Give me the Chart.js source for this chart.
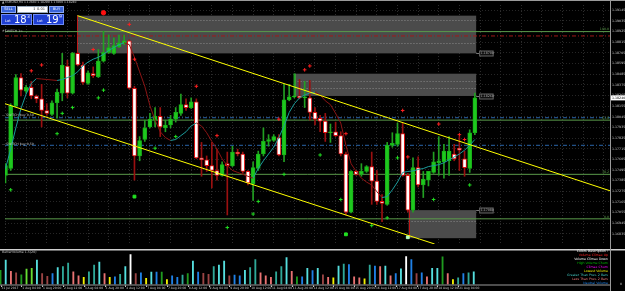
<!DOCTYPE html>
<html>
<head>
<meta charset="utf-8">
<script src="https://cdn.jsdelivr.net/npm/chart.js@4.4.0/dist/chart.umd.min.js"></script>
<style>
html, body { margin: 0; padding: 0; background: #000; }
#wrap { position: relative; width: 625px; height: 291px; overflow: hidden; background: #000; font-family: "DejaVu Sans", sans-serif; }
#mainBox { position: absolute; left: 0; top: 0; width: 625px; height: 249px; }
#volBox { position: absolute; left: 0; top: 249px; width: 625px; height: 42px; }
.t { position: absolute; white-space: nowrap; line-height: 1; color: #c0c0c0; font-size: 3.2px; }
.btn { position: absolute; height: 7px; background: #3a64d8; border: 1px solid #8aa6f2; box-sizing: border-box; color: #fff; font-size: 3.6px; text-align: center; line-height: 5px; }
.lot { position: absolute; height: 7px; background: #fff; border: 1px solid #9aaabb; box-sizing: border-box; color: #333; font-size: 3.6px; text-align: right; line-height: 5px; padding-right: 2px; }
.px { position: absolute; width: 31px; height: 11px; background: #1f3fd2; border: 1px solid #6f8cf5; box-sizing: border-box; color: #fff; }
.px .s { position: absolute; left: 3px; top: 5px; font-size: 3.6px; line-height: 1; }
.px .b { position: absolute; left: 12px; top: -1px; font-size: 10px; line-height: 1.1; }
.px .u { position: absolute; left: 25px; top: 0; font-size: 4.5px; line-height: 1; }
#legend { position: absolute; right: 17px; top: 250.4px; text-align: right; font-size: 3.2px; line-height: 3.95px; white-space: nowrap; }
</style>
</head>
<body>
<div id="wrap">
  <div id="mainBox"><canvas id="mainChart" width="625" height="249"></canvas></div>
  <div id="volBox"><canvas id="volChart" width="625" height="42"></canvas></div>

  <div class="t" style="left:2px;top:1px;font-size:3px;">&#9650; EURUSD,H4 1.17880 1.18290 1.17860 1.18240</div>
  <div class="btn" style="left:1px;top:6px;width:15px;">SELL</div>
  <div class="lot" style="left:17px;top:6px;width:31px;">&#8597; 0.01</div>
  <div class="btn" style="left:49px;top:6px;width:15px;">BUY</div>
  <div class="px" style="left:1px;top:13.5px;"><span class="s">Lot</span><span class="b">18</span><span class="u">3</span></div>
  <div class="px" style="left:33px;top:13.5px;"><span class="s">Lot</span><span class="b">19</span><span class="u">9</span></div>

  <div class="t" style="left:2px;top:29.5px;">#SWITCH 1&gt;</div>
  <div class="t" style="left:2px;top:114px;">&#8212; SWITCH buy 0.50</div>
  <div class="t" style="left:2px;top:143px;">&#8212; SWITCH buy 0.50</div>
  <div class="t" style="left:2px;top:251px;">BetterVolume 1.5(20)</div>

  <div id="legend">
    <div style="color:#ffffff;">Colors Description :</div>
    <div style="color:#ff2020;">Volume Climax Up</div>
    <div style="color:#ffffff;">Volume Climax Down</div>
    <div style="color:#00c000;">High Volume Churn</div>
    <div style="color:#ff00ff;">Climax Churn</div>
    <div style="color:#f0f000;">Lowest Volume</div>
    <div style="color:#40c8c0;">Greater Than Prev. 2 Bars</div>
    <div style="color:#f07b7b;">Less Than Prev. 2 Bars</div>
    <div style="color:#1f86ee;">Neutral Volume</div>
  </div>
</div>

<script>
// EURUSD H4, 31 Jul 12:00 .. 21 Aug 16:00
const openP = [
  1.1744, 1.1751, 1.1816, 1.1845, 1.1831, 1.1835, 1.1826, 1.1823, 1.1811, 1.1807,
  1.1819, 1.1829, 1.1857, 1.1829, 1.1870, 1.1858, 1.1839, 1.1849, 1.1846, 1.1862,
  1.1871, 1.1870, 1.1877, 1.1880, 1.1883, 1.1834, 1.1764, 1.1781, 1.1794, 1.1801,
  1.1805, 1.1793, 1.1796, 1.1802, 1.1808, 1.1817, 1.1814, 1.1820, 1.1762, 1.1760,
  1.1754, 1.1749, 1.1744, 1.1756, 1.1754, 1.1768, 1.1766, 1.1748, 1.1735, 1.1751,
  1.1766, 1.1779, 1.1780, 1.1783, 1.1765, 1.1822, 1.1825, 1.1826, 1.1824, 1.1824,
  1.1809, 1.1803, 1.1800, 1.1788, 1.1789, 1.1785, 1.1766, 1.1706, 1.1748, 1.1745,
  1.1748, 1.1753, 1.1738, 1.1717, 1.1714, 1.1775, 1.1776, 1.1787, 1.1744, 1.1708,
  1.1752, 1.1734, 1.1739, 1.1747, 1.1757, 1.1758, 1.1759, 1.1766, 1.1772, 1.1761,
  1.1751, 1.1788
];
const highP = [
  1.1756, 1.1818, 1.1848, 1.1849, 1.1837, 1.1841, 1.1827, 1.1838, 1.1818, 1.1821,
  1.1833, 1.1870, 1.1863, 1.1871, 1.1871, 1.1861, 1.1852, 1.1856, 1.1874, 1.1893,
  1.1889, 1.1886, 1.1889, 1.1889, 1.1884, 1.1836, 1.1784, 1.1801, 1.1808, 1.1814,
  1.1814, 1.1801, 1.1806, 1.1814, 1.1828, 1.1823, 1.1824, 1.1823, 1.1778, 1.1764,
  1.1778, 1.1771, 1.1758, 1.1768, 1.1774, 1.1771, 1.1768, 1.1749, 1.1758, 1.1769,
  1.1793, 1.1786, 1.1786, 1.1786, 1.1838, 1.1838, 1.1849, 1.1843, 1.1841, 1.1842,
  1.1814, 1.1806, 1.1808, 1.1797, 1.1799, 1.1789, 1.1768, 1.1749, 1.1749, 1.1756,
  1.1754, 1.1768, 1.1749, 1.1724, 1.1778, 1.1788, 1.1798, 1.1798, 1.1746, 1.1762,
  1.1763, 1.1748, 1.1748, 1.1768, 1.1784, 1.1776, 1.1784, 1.1776, 1.1784, 1.1769,
  1.1791, 1.1829
];
const lowP = [
  1.1736, 1.1749, 1.1815, 1.1826, 1.1829, 1.1823, 1.1819, 1.1794, 1.1806, 1.1806,
  1.1803, 1.1821, 1.1824, 1.1828, 1.1857, 1.1838, 1.1838, 1.1845, 1.1845, 1.1861,
  1.1870, 1.1869, 1.1876, 1.1879, 1.1833, 1.1739, 1.1759, 1.1779, 1.1793, 1.1794,
  1.1784, 1.1789, 1.1793, 1.1799, 1.1806, 1.1811, 1.1813, 1.1761, 1.1743, 1.1748,
  1.1731, 1.1739, 1.1743, 1.1703, 1.1753, 1.1764, 1.1746, 1.1734, 1.1718, 1.1749,
  1.1764, 1.1774, 1.1779, 1.1764, 1.1758, 1.1821, 1.1824, 1.1823, 1.1814, 1.1801,
  1.1796, 1.1789, 1.1779, 1.1778, 1.1784, 1.1764, 1.1703, 1.1705, 1.1744, 1.1743,
  1.1747, 1.1714, 1.1714, 1.1696, 1.1713, 1.1773, 1.1774, 1.1743, 1.1706, 1.1706,
  1.1732, 1.1721, 1.1733, 1.1746, 1.1744, 1.1741, 1.1744, 1.1759, 1.1749, 1.1743,
  1.1747, 1.1786
];
const closeP = [
  1.1754, 1.1816, 1.1845, 1.1832, 1.1835, 1.1826, 1.1823, 1.1811, 1.1808, 1.1819,
  1.1830, 1.1858, 1.1829, 1.1870, 1.1858, 1.1840, 1.1850, 1.1847, 1.1862, 1.1871,
  1.1876, 1.1878, 1.1881, 1.1883, 1.1834, 1.1764, 1.1780, 1.1793, 1.1802, 1.1805,
  1.1794, 1.1796, 1.1802, 1.1809, 1.1817, 1.1814, 1.1820, 1.1762, 1.1760, 1.1754,
  1.1749, 1.1744, 1.1755, 1.1754, 1.1768, 1.1766, 1.1748, 1.1736, 1.1752, 1.1766,
  1.1779, 1.1781, 1.1784, 1.1765, 1.1822, 1.1825, 1.1826, 1.1824, 1.1825, 1.1809,
  1.1802, 1.1800, 1.1788, 1.1789, 1.1785, 1.1766, 1.1706, 1.1748, 1.1745, 1.1748,
  1.1753, 1.1738, 1.1717, 1.1715, 1.1775, 1.1777, 1.1787, 1.1744, 1.1708, 1.1752,
  1.1734, 1.1740, 1.1748, 1.1758, 1.1759, 1.1769, 1.1769, 1.1761, 1.1770, 1.1752,
  1.1788, 1.1824
];

// trend-colored moving average
const maLine = [
  1.1751, 1.1771, 1.1793, 1.1813, 1.1828, 1.1839, 1.1844, 1.18435, 1.1843, 1.18425,
  1.1842, 1.1843, 1.1845, 1.1847, 1.1851, 1.1857, 1.1861, 1.1864, 1.1866, 1.1869,
  1.1873, 1.1876, 1.1879, 1.1881, 1.1879, 1.1866, 1.1851, 1.1836, 1.1816, 1.1801,
  1.1789, 1.1783, 1.1780, 1.1781, 1.1785, 1.1789, 1.1795, 1.1798, 1.1795, 1.1788,
  1.1779, 1.1771, 1.1761, 1.1754, 1.1749, 1.1747, 1.1745, 1.1743, 1.1741, 1.1751,
  1.1759, 1.1766, 1.1773, 1.1783, 1.1795, 1.1809, 1.1818, 1.1824, 1.1827, 1.1829,
  1.1830, 1.1827, 1.1821, 1.1817, 1.1808, 1.1798, 1.1775, 1.1756, 1.1748, 1.1741,
  1.1737, 1.1734, 1.1727, 1.1721, 1.1722, 1.1729, 1.1737, 1.1747, 1.1748, 1.17485,
  1.1750, 1.1751, 1.1753, 1.1754, 1.1755, 1.1757, 1.1760, 1.1763, 1.1766, 1.1770,
  1.1775, 1.1781
];

// volume panel
const volume = [
  1550, 2680, 1450, 1280, 1050, 1680, 1780, 2680, 1180, 880,
  1180, 1850, 1950, 2350, 1380, 950, 780, 1380, 2120, 2450,
  1180, 780, 850, 1120, 1950, 3280, 1180, 1280, 680, 1350,
  1350, 1350, 550, 950, 780, 1020, 1180, 2550, 1350, 1220,
  1120, 1950, 2120, 2550, 950, 1020, 950, 1550, 1850, 2720,
  1280, 950, 780, 1380, 1950, 2950, 1450, 850, 850, 1780,
  1520, 1780, 1050, 780, 720, 2020, 2220, 2180, 850, 720,
  620, 2120, 2020, 1950, 2020, 950, 1180, 1720, 3050, 2720,
  1180, 1280, 850, 1780, 1780, 3020, 1180, 550, 720, 1180,
  1280, 1380
];
const volColor = [
  'g', 'c', 's', 'dr', 'g', 'lg', 'lg', 'c', 'dr', 'dr',
  'b', 'c', 't', 't', 's', 's', 'y', 't', 't', 'c',
  's', 'y', 'b', 't', 'c', 'w', 'dr', 'b', 'y', 'c',
  'b', 'g', 'y', 'b', 'b', 't', 'g', 'c', 'b', 'dr',
  'dr', 't', 'c', 'c', 'dr', 'b', 'b', 'c', 't', 't',
  's', 's', 's', 't', 't', 'c', 's', 'g', 'b', 'c',
  'b', 'c', 'dr', 's', 'y', 'c', 't', 'b', 's', 's',
  'y', 't', 'b', 's', 'c', 's', 'b', 'c', 'w', 'b',
  'dr', 'b', 's', 'c', 'c', 'g', 's', 'y', 't', 'b',
  't', 'c'
];
const palette = { g: '#1f9a1f', lg: '#66dd33', s: '#e87272', dr: '#9a4444', c: '#55dede', t: '#2fa898', b: '#1f80e6', y: '#f0f000', w: '#ffffff' };

// axis labels
const dateIdx = [0, 4, 8, 12, 16, 20, 24, 28, 32, 36, 40, 44, 48, 52, 56, 60, 64, 68, 72, 76, 80, 84, 88];
const dateLabels = [
  '31 Jul 2017', '1 Aug 04:00', '1 Aug 20:00', '2 Aug 12:00', '3 Aug 04:00', '3 Aug 20:00',
  '4 Aug 12:00', '7 Aug 04:00', '7 Aug 20:00', '8 Aug 12:00', '9 Aug 04:00', '9 Aug 20:00',
  '10 Aug 12:00', '11 Aug 04:00', '11 Aug 20:00', '14 Aug 12:00', '15 Aug 04:00', '15 Aug 20:00',
  '16 Aug 12:00', '17 Aug 04:00', '17 Aug 20:00', '18 Aug 12:00', '21 Aug 04:00'
];
const priceTicks = [
  1.19145, 1.19035, 1.18925, 1.18815, 1.18705, 1.18595, 1.18485, 1.18375, 1.18265, 1.18155,
  1.18045, 1.17935, 1.17825, 1.17715, 1.17605, 1.17495, 1.17385, 1.17275, 1.17165, 1.17055,
  1.16945, 1.16835
];

// fractal markers
const redMarkX = [5, 7, 17, 24, 25, 37, 41, 53, 58, 59, 66, 77, 78, 84, 88, 89];
const redMarkY = [1.1852, 1.1858, 1.1874, 1.1900, 1.1864, 1.1836, 1.1785, 1.1802, 1.1853, 1.1857, 1.1787, 1.1811, 1.1763, 1.1797, 1.1786, 1.1781];
const greenMarkX = [1, 10, 11, 13, 18, 19, 29, 33, 43, 48, 49, 54, 61, 65, 71, 74, 76, 83, 90];
const greenMarkY = [1.1729, 1.1787, 1.1808, 1.1814, 1.1824, 1.1832, 1.1772, 1.1784, 1.1690, 1.1704, 1.1717, 1.1745, 1.1765, 1.1719, 1.1692, 1.1700, 1.1762, 1.1719, 1.1734];
const bigRedX = [19];
const bigRedY = [1.1912];
const bigGreenX = [25, 66];
const bigGreenY = [1.1722, 1.1683];
const paleGreenX = [78];
const paleGreenY = [1.1680];

// supply / demand zones
const zoneStart = [13.95, 56.05, 78.15];
const zoneEnd = [91.25, 91.25, 91.25];
const zoneTop = [1.1909, 1.1849, 1.1708];
const zoneBottom = [1.1870, 1.1826, 1.1679];
const zoneDots = [[1.1904, 1.1881], [1.1841, 1.1834], [1.1697]];
const zoneEdge = ['#c01818', '#3c9a3c', '#c01818'];
const zoneLabel = ['1.18700', '1.18260', '1.17080'];
const zoneLabelAt = [1.1870, 1.1826, 1.1708];

// horizontal levels
const hlinePrice = [1.18925, 1.1888, 1.18035, 1.1801, 1.1775, 1.1745, 1.1699];
const hlineColor = ['#5a9a4a', '#a01818', '#2a64a8', '#5a9a4a', '#2a64a8', '#5a9a4a', '#5a9a4a'];
const hlineDash = [[], [4, 2, 1, 2], [4, 2, 1, 2], [], [4, 2, 1, 2], [], []];
const hlineLabel = ['100.0', '', '', '61.8', '', '38.2', '0.0'];

// channel lines
const upperLineX = [13.95, 117.2];
const upperLineY = [1.1909, 1.1728];
const lowerLineX = [-0.1, 83.2];
const lowerLineY = [1.1818, 1.1673];

const xMin = -0.1, xMax = 117.2;
const isBull = openP.map((o, i) => closeP[i] >= o);
const gridIdx = [];
for (let v = 0; v <= 116; v += 4) gridIdx.push(v);

function pts(xs, ys) { return xs.map((x, i) => ({ x: x, y: ys[i] })); }

const zonePlugin = {
  id: 'zones',
  beforeDatasetsDraw(chart) {
    const { ctx, scales: { x, y } } = chart;
    ctx.save();
    for (let k = 0; k < zoneStart.length; k++) {
      const x0 = x.getPixelForValue(zoneStart[k]);
      const x1 = x.getPixelForValue(zoneEnd[k]);
      const y0 = y.getPixelForValue(zoneTop[k]);
      const y1 = y.getPixelForValue(zoneBottom[k]);
      ctx.fillStyle = '#4b4b4b';
      ctx.fillRect(x0, y0, x1 - x0, y1 - y0);
      ctx.strokeStyle = '#8a8a8a';
      ctx.lineWidth = 1;
      ctx.setLineDash([1, 2]);
      zoneDots[k].forEach(p => {
        const yy = Math.round(y.getPixelForValue(p)) + 0.5;
        ctx.beginPath(); ctx.moveTo(x0, yy); ctx.lineTo(x1, yy); ctx.stroke();
      });
      ctx.setLineDash([]);
      ctx.strokeStyle = zoneEdge[k];
      ctx.beginPath(); ctx.moveTo(Math.round(x0) + 0.5, y0); ctx.lineTo(Math.round(x0) + 0.5, y1); ctx.stroke();
    }
    ctx.restore();
  },
  afterDatasetsDraw(chart) {
    const { ctx, scales: { x, y }, chartArea } = chart;
    ctx.save();
    ctx.font = '3.2px "DejaVu Sans"';
    ctx.textBaseline = 'middle';
    // zone price tags
    for (let k = 0; k < zoneStart.length; k++) {
      const xe = x.getPixelForValue(zoneEnd[k]);
      const yl = Math.round(y.getPixelForValue(zoneLabelAt[k])) + 0.5;
      ctx.strokeStyle = '#777';
      ctx.lineWidth = 1;
      ctx.beginPath(); ctx.moveTo(xe, yl); ctx.lineTo(xe + 3, yl); ctx.stroke();
      ctx.fillStyle = '#111';
      ctx.fillRect(xe + 3, yl - 2.5, 14, 5);
      ctx.strokeStyle = '#666';
      ctx.strokeRect(xe + 3.5, yl - 2.5, 13.5, 5);
      ctx.fillStyle = '#aaa';
      ctx.textAlign = 'left';
      ctx.fillText(zoneLabel[k], xe + 4.5, yl);
    }
    // level tags at the right end
    ctx.textAlign = 'right';
    for (let k = 0; k < hlinePrice.length; k++) {
      if (!hlineLabel[k]) continue;
      const yl = y.getPixelForValue(hlinePrice[k]);
      ctx.fillStyle = hlineColor[k];
      ctx.fillText(hlineLabel[k], chartArea.right - 1, yl - 2);
    }
    ctx.restore();
  },
  afterDraw(chart) {
    const { ctx, scales: { y }, chartArea } = chart;
    ctx.save();
    // frame
    ctx.strokeStyle = '#9a9a9a';
    ctx.lineWidth = 1;
    ctx.beginPath();
    ctx.moveTo(0, 0.5); ctx.lineTo(625, 0.5);
    ctx.moveTo(chartArea.right + 0.5, 0); ctx.lineTo(chartArea.right + 0.5, 249);
    ctx.stroke();
    // last price tag
    const last = closeP[closeP.length - 1];
    const yp = y.getPixelForValue(last);
    ctx.fillStyle = '#ffffff';
    ctx.fillRect(chartArea.right + 1, yp - 2.5, 14, 5);
    ctx.fillStyle = '#000';
    ctx.font = '3.2px "DejaVu Sans"';
    ctx.textBaseline = 'middle';
    ctx.textAlign = 'left';
    ctx.fillText(last.toFixed(5), chartArea.right + 2, yp);
    ctx.restore();
  }
};

const hlineSets = hlinePrice.map((p, k) => ({
  type: 'line',
  data: [{ x: xMin, y: p }, { x: xMax, y: p }],
  borderColor: hlineColor[k],
  borderDash: hlineDash[k],
  borderWidth: 1,
  pointRadius: 0,
  order: 8
}));

new Chart(document.getElementById('mainChart'), {
  type: 'bar',
  data: {
    datasets: [
      ...hlineSets,
      {
        type: 'bar',
        data: openP.map((o, i) => ({ x: i, y: [lowP[i], highP[i]] })),
        backgroundColor: isBull.map(b => b ? '#22a022' : '#9a1010'),
        barThickness: 1,
        maxBarThickness: 1,
        grouped: false,
        order: 6
      },
      {
        type: 'bar',
        data: openP.map((o, i) => ({ x: i, y: [o, closeP[i]] })),
        backgroundColor: isBull.map(b => b ? '#1ec81e' : '#ffffff'),
        borderColor: isBull.map(b => b ? '#18b018' : '#e01010'),
        borderWidth: 1,
        borderSkipped: false,
        barThickness: 4,
        maxBarThickness: 4,
        grouped: false,
        order: 5
      },
      {
        type: 'line',
        data: maLine.map((v, i) => ({ x: i, y: v })),
        borderColor: '#1b9b9b',
        segment: { borderColor: c => c.p1.parsed.y >= c.p0.parsed.y ? '#1b9b9b' : '#8c1414' },
        borderWidth: 1,
        pointRadius: 0,
        order: 3
      },
      {
        type: 'line',
        data: pts(redMarkX, redMarkY),
        showLine: false,
        pointStyle: 'cross',
        pointRadius: 1.8,
        pointBorderWidth: 1,
        pointBorderColor: '#ff2020',
        order: 2
      },
      {
        type: 'line',
        data: pts(greenMarkX, greenMarkY),
        showLine: false,
        pointStyle: 'cross',
        pointRadius: 1.8,
        pointBorderWidth: 1,
        pointBorderColor: '#22dd22',
        order: 2
      },
      {
        type: 'line',
        data: pts(bigRedX, bigRedY),
        showLine: false,
        pointStyle: 'circle',
        pointRadius: 2.2,
        pointBackgroundColor: '#ff1010',
        pointBorderColor: '#ff1010',
        order: 2
      },
      {
        type: 'line',
        data: pts(bigGreenX, bigGreenY),
        showLine: false,
        pointStyle: 'rect',
        pointRadius: 2,
        pointBackgroundColor: '#22e022',
        pointBorderColor: '#22e022',
        order: 2
      },
      {
        type: 'line',
        data: pts(paleGreenX, paleGreenY),
        showLine: false,
        pointStyle: 'rect',
        pointRadius: 2,
        pointBackgroundColor: '#b0ffc0',
        pointBorderColor: '#b0ffc0',
        order: 2
      },
      {
        type: 'line',
        data: pts(upperLineX, upperLineY),
        borderColor: '#ffff00',
        borderWidth: 1,
        pointRadius: 0,
        order: 1
      },
      {
        type: 'line',
        data: pts(lowerLineX, lowerLineY),
        borderColor: '#ffff00',
        borderWidth: 1,
        pointRadius: 0,
        order: 1
      }
    ]
  },
  options: {
    responsive: false,
    animation: false,
    devicePixelRatio: 1,
    layout: { padding: { top: 1, bottom: 1, left: 0, right: 0 } },
    plugins: { legend: { display: false }, tooltip: { enabled: false } },
    scales: {
      x: {
        type: 'linear',
        min: xMin,
        max: xMax,
        offset: false,
        afterBuildTicks: s => { s.ticks = gridIdx.map(v => ({ value: v })); },
        afterFit: s => { s.height = 0; },
        ticks: { display: false },
        grid: { color: '#2c2c2c', drawTicks: false, offset: false },
        border: { display: false, dash: [1, 2] }
      },
      y: {
        position: 'right',
        min: 1.1673,
        max: 1.1920,
        beginAtZero: false,
        afterBuildTicks: s => { s.ticks = priceTicks.map(v => ({ value: v })); },
        afterFit: s => { s.width = 15; },
        ticks: {
          color: '#c8c8c8',
          font: { size: 3.2, family: 'DejaVu Sans' },
          padding: 2,
          autoSkip: false,
          callback: v => v.toFixed(5)
        },
        grid: { color: '#262626', drawTicks: false },
        border: { display: false, dash: [1, 2] }
      }
    }
  },
  plugins: [zonePlugin]
});

const volFrame = {
  id: 'volFrame',
  afterDraw(chart) {
    const { ctx, chartArea, scales: { x } } = chart;
    ctx.save();
    ctx.strokeStyle = '#cfcfcf';
    ctx.lineWidth = 1.5;
    ctx.beginPath(); ctx.moveTo(0, 0.75); ctx.lineTo(625, 0.75); ctx.stroke();
    ctx.strokeStyle = '#9a9a9a';
    ctx.lineWidth = 1;
    ctx.beginPath();
    ctx.moveTo(0, chartArea.bottom + 0.5); ctx.lineTo(chartArea.right + 1, chartArea.bottom + 0.5);
    ctx.moveTo(chartArea.right + 0.5, 0); ctx.lineTo(chartArea.right + 0.5, 42);
    ctx.stroke();
    // date labels under the panel
    ctx.fillStyle = '#c8c8c8';
    ctx.font = '3px "DejaVu Sans"';
    ctx.textAlign = 'left';
    ctx.textBaseline = 'top';
    dateIdx.forEach((v, k) => {
      const px = x.getPixelForValue(v);
      ctx.fillRect(Math.round(px), chartArea.bottom + 1, 1, 1.5);
      ctx.fillText(dateLabels[k], px + 1, chartArea.bottom + 2.2);
    });
    ctx.restore();
  }
};

new Chart(document.getElementById('volChart'), {
  type: 'bar',
  data: {
    datasets: [{
      data: volume.map((v, i) => ({ x: i, y: v })),
      backgroundColor: volColor.map(c => palette[c]),
      barThickness: 1.2,
      maxBarThickness: 1.2,
      grouped: false
    }]
  },
  options: {
    responsive: false,
    animation: false,
    devicePixelRatio: 1,
    layout: { padding: { top: 1.5, bottom: 0, left: 0, right: 0 } },
    plugins: { legend: { display: false }, tooltip: { enabled: false } },
    scales: {
      x: {
        type: 'linear',
        min: xMin,
        max: xMax,
        offset: false,
        afterBuildTicks: s => { s.ticks = dateIdx.map(v => ({ value: v })); },
        afterFit: s => { s.height = 6.5; },
        ticks: { display: false },
        grid: { display: false },
        border: { display: false }
      },
      y: {
        position: 'right',
        min: 0,
        max: 3450,
        beginAtZero: true,
        afterBuildTicks: s => { s.ticks = [{ value: 0 }]; },
        afterFit: s => { s.width = 15; },
        ticks: { color: '#c8c8c8', font: { size: 3.2, family: 'DejaVu Sans' }, padding: 2 },
        grid: { display: false },
        border: { display: false }
      }
    }
  },
  plugins: [volFrame]
});
</script>
</body>
</html>
